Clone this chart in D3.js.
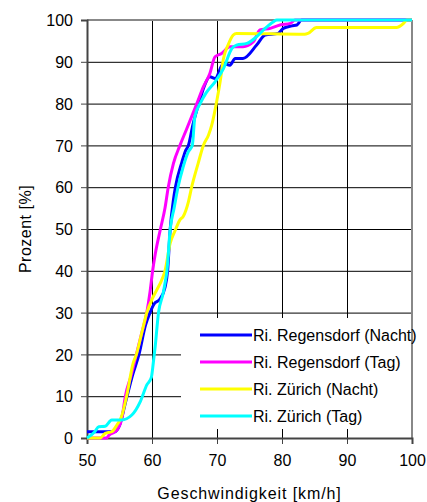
<!DOCTYPE html>
<html>
<head>
<meta charset="utf-8">
<script src="https://cdn.jsdelivr.net/npm/d3@7"></script>
<style>
  body { margin: 0; background: #fff; }
  text { font-family: "Liberation Sans", Arial, sans-serif; fill: #000; }
</style>
</head>
<body>
<div id="chart"></div>
<script>
// Cumulative speed distribution [km/h, %]
const regensdorfNacht = [
    [50, 1.5], [54.3, 1.5], [55, 3], [56, 9], [57, 15], [58, 20], [59, 27], [59.7, 30],
    [60.3, 32], [61.2, 33.2], [62, 36], [62.4, 40], [62.8, 50], [63.3, 57], [63.6, 60],
    [64.6, 66], [65.1, 68.5], [65.6, 70], [66.3, 75], [67.2, 80], [68, 84], [68.9, 86.4],
    [69.7, 86], [71, 89.6], [72, 89.2], [72.8, 90.8], [74, 90.8], [76.1, 94], [77.4, 96.4],
    [79.4, 96.8], [80.2, 98], [81.5, 98.6], [82.3, 98.8], [83, 100], [100, 100]
];
const regensdorfTag = [
    [50, 0], [53, 0], [53.4, 0.7], [54.6, 1.9], [55.4, 5], [55.9, 10], [56.8, 15], [57.6, 20],
    [58.4, 25], [59.2, 30], [59.7, 35], [60.1, 40], [60.5, 44], [61.3, 50], [62, 55], [62.5, 60],
    [63.3, 65.7], [64.3, 70], [65.3, 73.8], [66.9, 80], [67.9, 84], [68.9, 87.2], [69.7, 91.2],
    [70.7, 92], [72, 93.6], [74, 93.6], [75.6, 94.8], [76.6, 97.6], [78.2, 98], [79.7, 98.8],
    [81.3, 99.2], [82, 100], [100, 100]
];
const zuerichNacht = [
    [50, 0], [52, 0], [52.8, 1.1], [53.8, 1.5], [54.6, 3.1], [55.3, 5.1], [56.1, 10], [57.1, 17.9],
    [57.6, 20], [58.4, 25], [59.2, 30], [60.2, 33.8], [61.7, 38.6], [62, 40], [62.8, 46.6],
    [63.5, 49.4], [64.3, 52.2], [64.8, 53], [65.6, 56.5], [66.1, 60], [67.1, 65.7], [67.9, 70],
    [68.7, 72.5], [69.2, 74.9], [70, 80.9], [70.5, 85.4], [71, 90.8], [71.7, 94], [72.5, 96.4],
    [73, 96.8], [83.5, 96.6], [84, 96.8], [85.3, 98.2], [97.6, 98.2], [98.7, 99.2], [99.2, 100],
    [100, 100]
];
const zuerichTag = [
    [50, 0], [51.2, 1.5], [51.8, 2.7], [52.8, 2.8], [53.8, 4.3], [55.3, 4.3], [56.9, 5.5],
    [58.2, 8.7], [59.2, 12.7], [59.9, 14.5], [60.2, 18], [60.5, 22], [61, 30], [61.7, 34.5],
    [62, 37], [62.3, 40], [62.8, 50], [63.4, 55], [64, 60], [64.8, 64.9], [65.6, 68.5],
    [66.2, 70], [66.6, 76.9], [67.4, 80], [68.3, 82.5], [69.7, 85.2], [71, 88.4], [72.3, 93.2],
    [73, 94], [74.6, 94.4], [76.1, 96], [77.4, 98], [78.7, 99.6], [79.2, 100], [100, 100]
];

const seriesNames = ["Ri. Regensdorf (Nacht)", "Ri. Regensdorf (Tag)", "Ri. Zürich (Nacht)", "Ri. Zürich (Tag)"];
const seriesData = [regensdorfNacht, regensdorfTag, zuerichNacht, zuerichTag];
const seriesColors = ["#0000ff", "#ff00ff", "#ffff00", "#00ffff"];

const xTicks = [50, 60, 70, 80, 90, 100];
const yTicks = [0, 10, 20, 30, 40, 50, 60, 70, 80, 90, 100];

const width = 427;
const height = 502;
const margin = { top: 20, right: 15, bottom: 64, left: 87 };

const svg = d3.select("#chart")
    .append("svg")
    .attr("width", width)
    .attr("height", height);

const x = d3.scaleLinear().domain([50, 100]).range([margin.left, width - margin.right]);
const y = d3.scaleLinear().domain([0, 100]).range([height - margin.bottom, margin.top]);

// grid lines
svg.append("g")
    .selectAll("line.h")
    .data(yTicks.slice(1, -1))
    .enter()
    .append("line")
    .attr("x1", x(50))
    .attr("x2", x(100))
    .attr("y1", d => y(d) + 0.5)
    .attr("y2", d => y(d) + 0.5)
    .attr("stroke", "#000")
    .attr("stroke-width", 1);

svg.append("g")
    .selectAll("line.v")
    .data(xTicks.slice(1, -1))
    .enter()
    .append("line")
    .attr("x1", d => x(d) + 0.5)
    .attr("x2", d => x(d) + 0.5)
    .attr("y1", y(100))
    .attr("y2", y(0))
    .attr("stroke", "#000")
    .attr("stroke-width", 1);

// legend background hides the grid behind it
const legendLeft = 181;
const legendTop = 318;
svg.append("rect")
    .attr("x", legendLeft)
    .attr("y", legendTop)
    .attr("width", x(100) - legendLeft)
    .attr("height", 111)
    .attr("fill", "#fff");

// frame: grey top and right, dark axes
svg.append("line")
    .attr("x1", x(50)).attr("x2", x(100))
    .attr("y1", y(100)).attr("y2", y(100))
    .attr("stroke", "#888").attr("stroke-width", 2);
svg.append("line")
    .attr("x1", x(100)).attr("x2", x(100))
    .attr("y1", y(100)).attr("y2", y(0))
    .attr("stroke", "#888").attr("stroke-width", 2);

const xAxis = svg.append("g")
    .attr("transform", `translate(0,${y(0)})`)
    .call(d3.axisBottom(x).tickValues(xTicks).tickSize(6).tickPadding(11));
const yAxis = svg.append("g")
    .attr("transform", `translate(${x(50)},0)`)
    .call(d3.axisLeft(y).tickValues(yTicks).tickSize(6).tickPadding(8));

[xAxis, yAxis].forEach(axis => {
    axis.select(".domain").attr("stroke", "#444").attr("stroke-width", 2);
    axis.selectAll(".tick line").attr("stroke", "#444");
    axis.selectAll(".tick text")
        .attr("font-size", "16px")
        .attr("font-family", "Liberation Sans, Arial, sans-serif")
        .attr("fill", "#000");
});
yAxis.selectAll(".tick text").attr("dy", "0.36em");

// the curves
const line = d3.line()
    .x(d => x(d[0]))
    .y(d => y(d[1]))
    .curve(d3.curveMonotoneX);

svg.append("g")
    .selectAll("path")
    .data(seriesData)
    .enter()
    .append("path")
    .attr("d", line)
    .attr("fill", "none")
    .attr("stroke", (d, i) => seriesColors[i])
    .attr("stroke-width", 3)
    .attr("stroke-linejoin", "round");

// legend
const legend = svg.append("g")
    .selectAll("g")
    .data(seriesNames)
    .enter()
    .append("g")
    .attr("transform", (d, i) => `translate(200, ${335 + i * 27})`);

legend.append("line")
    .attr("x1", 0)
    .attr("x2", 52)
    .attr("stroke", (d, i) => seriesColors[i])
    .attr("stroke-width", 3);

legend.append("text")
    .attr("x", 53)
    .attr("dy", "0.36em")
    .attr("font-size", "16px")
    .text(d => d);

// axis titles
svg.append("text")
    .attr("x", (x(50) + x(100)) / 2)
    .attr("y", 499)
    .attr("text-anchor", "middle")
    .attr("font-size", "16px")
    .attr("letter-spacing", "0.9px")
    .text("Geschwindigkeit [km/h]");

svg.append("text")
    .attr("transform", "rotate(-90)")
    .attr("x", -(y(0) + y(100)) / 2)
    .attr("y", 31)
    .attr("text-anchor", "middle")
    .attr("font-size", "16px")
    .attr("letter-spacing", "0.5px")
    .text("Prozent [%]");
</script>
</body>
</html>
